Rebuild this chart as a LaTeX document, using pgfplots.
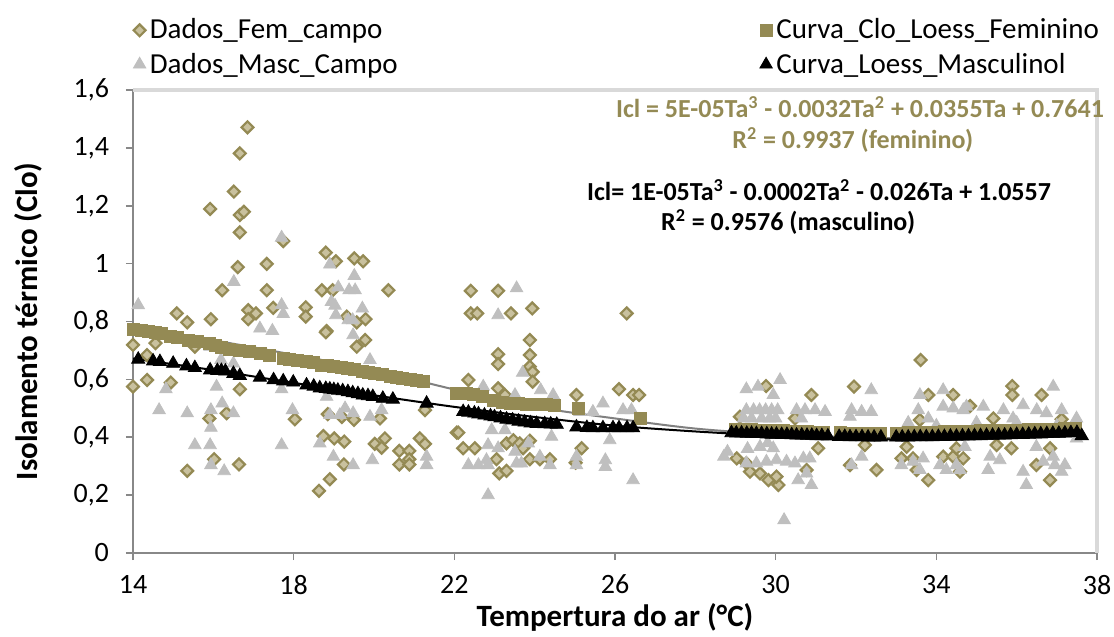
\documentclass[border=0pt]{standalone}
\usepackage{fontspec}
\setmainfont{Carlito}
\usepackage{pgfplots}
\pgfplotsset{compat=1.18}
\usetikzlibrary{calc}

\definecolor{olive}{HTML}{948A54}
\definecolor{tan}{HTML}{C9C19E}
\definecolor{ltgray}{HTML}{BFBFBF}
\definecolor{axgray}{HTML}{888888}
\definecolor{bordgray}{HTML}{D9D9D9}
\definecolor{fitgray}{HTML}{808080}

% campo - feminino
\pgfplotstableread{
x y
16.85 1.471
16.66 1.381
16.51 1.249
15.92 1.189
16.66 1.168
16.76 1.179
16.66 1.108
17.74 1.078
16.61 0.988
17.33 0.999
18.80 1.038
19.05 1.008
19.51 1.018
19.73 1.008
16.22 0.908
17.33 0.908
18.70 0.908
18.97 0.908
20.36 0.908
15.09 0.828
15.35 0.797
15.94 0.808
16.87 0.839
17.06 0.828
16.87 0.808
17.49 0.847
18.30 0.849
18.30 0.817
18.82 0.767
19.32 0.817
19.57 0.797
19.79 0.808
14.00 0.719
14.00 0.575
14.35 0.684
14.56 0.725
14.35 0.598
14.94 0.589
15.54 0.713
16.66 0.566
15.35 0.284
15.90 0.465
16.02 0.324
16.64 0.306
16.33 0.483
18.03 0.462
18.80 0.763
19.57 0.713
19.78 0.736
18.63 0.215
18.90 0.255
18.74 0.404
19.01 0.396
19.26 0.385
19.25 0.306
20.02 0.377
20.19 0.364
20.27 0.396
20.63 0.353
20.88 0.353
20.88 0.324
20.63 0.306
20.88 0.306
21.14 0.396
21.27 0.377
22.06 0.416
21.27 0.494
20.15 0.465
18.85 0.480
19.20 0.470
19.50 0.460
22.41 0.906
23.09 0.906
22.41 0.828
22.57 0.828
23.41 0.828
23.94 0.845
26.29 0.828
23.88 0.736
23.09 0.687
23.09 0.653
23.88 0.684
23.88 0.644
23.95 0.626
23.95 0.592
22.35 0.598
23.09 0.569
23.26 0.546
25.04 0.546
26.10 0.566
26.45 0.546
26.60 0.546
22.10 0.416
22.22 0.362
22.51 0.362
23.05 0.324
23.12 0.275
23.30 0.284
23.30 0.379
23.47 0.390
23.63 0.379
23.71 0.362
23.88 0.388
23.88 0.324
24.13 0.324
24.38 0.324
25.17 0.362
25.02 0.312
33.61 0.667
29.76 0.577
30.89 0.546
31.95 0.575
33.80 0.546
34.42 0.546
35.89 0.577
35.89 0.546
36.62 0.546
37.12 0.462
34.84 0.508
29.03 0.327
29.27 0.310
29.36 0.281
29.61 0.275
29.82 0.252
30.07 0.235
30.02 0.264
32.51 0.287
31.85 0.304
30.77 0.287
33.13 0.327
33.42 0.327
33.51 0.287
33.80 0.252
34.17 0.333
34.42 0.333
34.67 0.327
34.59 0.281
36.49 0.304
36.83 0.252
36.83 0.362
35.87 0.362
35.50 0.373
34.50 0.362
33.26 0.367
31.06 0.362
32.22 0.373
29.11 0.471
30.48 0.465
33.59 0.460
35.42 0.465
}\femdata

% campo - masculino
\pgfplotstableread{
x y
17.70 1.090
16.51 0.937
18.90 0.997
19.51 0.958
19.11 0.918
19.38 0.908
19.53 0.908
14.13 0.857
17.70 0.857
17.74 0.826
18.94 0.868
19.03 0.855
19.05 0.822
19.71 0.845
19.36 0.805
19.47 0.805
17.16 0.776
17.47 0.768
19.48 0.753
14.82 0.566
14.65 0.494
15.35 0.483
15.54 0.373
15.92 0.373
15.94 0.433
15.94 0.494
15.94 0.304
16.27 0.283
16.08 0.575
16.22 0.517
16.50 0.483
15.92 0.713
16.66 0.696
16.19 0.667
16.50 0.655
17.70 0.566
17.97 0.494
17.70 0.373
18.65 0.379
18.82 0.540
18.90 0.477
19.15 0.477
19.28 0.500
19.48 0.483
18.99 0.333
19.48 0.304
19.96 0.321
19.90 0.667
19.90 0.471
20.19 0.494
21.31 0.333
21.31 0.304
23.55 0.915
23.09 0.822
23.70 0.623
22.72 0.575
24.46 0.546
24.15 0.563
23.51 0.546
22.93 0.425
23.26 0.425
24.42 0.402
22.84 0.373
23.09 0.362
23.84 0.379
22.35 0.304
22.60 0.304
22.80 0.321
22.84 0.304
23.51 0.350
23.55 0.310
23.67 0.310
24.13 0.333
24.38 0.304
25.04 0.333
25.04 0.304
25.76 0.321
25.76 0.298
26.45 0.252
22.84 0.200
25.87 0.390
25.70 0.517
25.45 0.488
26.20 0.494
26.41 0.494
25.13 0.488
30.21 0.114
30.11 0.598
29.27 0.566
29.56 0.575
29.94 0.546
29.27 0.494
29.45 0.494
29.60 0.494
29.75 0.494
29.90 0.494
30.05 0.494
29.20 0.465
29.40 0.465
29.65 0.465
29.85 0.465
30.00 0.465
30.52 0.494
30.73 0.494
30.98 0.494
31.23 0.488
30.64 0.465
32.38 0.563
31.89 0.494
32.14 0.488
32.38 0.488
31.85 0.471
33.59 0.546
34.17 0.563
33.55 0.494
33.80 0.465
34.17 0.506
34.42 0.500
34.67 0.494
34.75 0.506
35.17 0.506
35.67 0.494
35.91 0.465
36.16 0.511
36.50 0.494
36.74 0.483
37.12 0.494
37.49 0.465
36.91 0.575
37.49 0.396
28.71 0.333
29.27 0.310
29.52 0.310
29.77 0.316
30.02 0.321
30.27 0.316
30.48 0.310
30.69 0.327
30.85 0.327
30.77 0.275
30.56 0.252
30.89 0.235
29.61 0.367
29.94 0.362
31.89 0.304
32.14 0.333
33.13 0.304
33.42 0.316
33.67 0.327
33.59 0.287
34.09 0.304
34.25 0.287
34.50 0.304
34.59 0.287
35.34 0.333
35.58 0.321
35.29 0.287
36.16 0.281
36.24 0.235
36.66 0.316
36.91 0.333
36.95 0.304
37.20 0.304
37.12 0.281
34.71 0.367
36.49 0.367
29.30 0.360
29.80 0.380
33.30 0.450
34.00 0.440
35.00 0.450
36.00 0.450
37.00 0.440
28.80 0.350
}\mascdata

% loess feminino
\pgfplotstableread{
x y
14.00 0.773
14.20 0.770
14.38 0.765
14.55 0.762
14.70 0.760
14.92 0.748
15.10 0.744
15.38 0.736
15.60 0.730
15.90 0.725
16.05 0.718
16.20 0.710
16.40 0.705
16.66 0.700
16.90 0.695
17.16 0.690
17.40 0.683
17.74 0.673
17.90 0.670
18.10 0.666
18.32 0.661
18.50 0.657
18.70 0.650
18.85 0.648
19.00 0.645
19.20 0.640
19.35 0.637
19.50 0.633
19.70 0.628
19.85 0.625
20.00 0.621
20.20 0.616
20.40 0.612
20.55 0.608
20.70 0.605
20.90 0.600
21.05 0.597
21.23 0.592
22.06 0.552
22.30 0.550
22.47 0.548
22.70 0.540
22.97 0.529
23.20 0.520
23.40 0.518
23.60 0.517
23.80 0.515
24.00 0.514
24.30 0.512
24.50 0.510
25.09 0.500
26.62 0.465
29.00 0.428
29.20 0.427
29.40 0.426
29.60 0.425
29.80 0.424
30.00 0.423
30.20 0.422
30.40 0.421
30.60 0.420
30.80 0.419
31.00 0.418
31.20 0.417
31.60 0.416
31.80 0.415
32.00 0.415
32.20 0.414
32.40 0.414
32.60 0.414
33.00 0.415
33.30 0.416
33.60 0.417
33.90 0.418
34.20 0.419
34.50 0.420
34.80 0.421
35.10 0.422
35.40 0.423
35.70 0.424
36.00 0.425
36.30 0.426
36.60 0.427
36.90 0.428
37.20 0.429
37.45 0.430
}\femloess

% loess masculino
\pgfplotstableread{
x y
14.13 0.669
14.50 0.663
14.67 0.661
15.00 0.655
15.33 0.646
15.54 0.640
15.92 0.632
16.10 0.630
16.20 0.630
16.30 0.628
16.50 0.620
16.66 0.613
17.16 0.607
17.50 0.598
17.74 0.594
17.99 0.590
18.32 0.580
18.50 0.576
18.65 0.570
18.80 0.568
18.90 0.566
19.00 0.564
19.10 0.562
19.22 0.560
19.35 0.557
19.47 0.553
19.60 0.550
19.72 0.545
19.85 0.543
19.97 0.540
20.22 0.534
20.47 0.531
21.31 0.517
22.22 0.488
22.35 0.486
22.50 0.483
22.60 0.480
22.75 0.476
22.90 0.473
23.00 0.470
23.15 0.466
23.30 0.462
23.45 0.459
23.60 0.455
23.75 0.452
23.90 0.449
24.05 0.447
24.25 0.446
24.40 0.445
24.55 0.444
25.04 0.435
25.30 0.433
25.45 0.432
25.70 0.432
25.95 0.432
26.10 0.432
26.30 0.432
26.45 0.432
28.90 0.415
29.02 0.414
29.15 0.414
29.28 0.413
29.40 0.413
29.52 0.412
29.65 0.412
29.78 0.411
29.90 0.410
30.02 0.410
30.15 0.409
30.28 0.409
30.40 0.408
30.52 0.407
30.65 0.407
30.78 0.406
30.90 0.406
31.02 0.405
31.15 0.405
31.30 0.404
31.58 0.402
31.72 0.402
31.85 0.401
32.00 0.401
32.15 0.401
32.30 0.400
32.45 0.400
32.62 0.400
33.00 0.400
33.15 0.400
33.30 0.400
33.45 0.401
33.60 0.401
33.75 0.401
33.90 0.401
34.05 0.402
34.20 0.402
34.35 0.403
34.50 0.403
34.65 0.404
34.80 0.404
34.95 0.405
35.10 0.405
35.25 0.406
35.40 0.406
35.55 0.407
35.70 0.407
35.85 0.408
36.00 0.409
36.15 0.409
36.30 0.410
36.45 0.411
36.60 0.411
36.75 0.412
36.90 0.413
37.05 0.413
37.20 0.414
37.35 0.415
37.50 0.416
37.62 0.405
}\mascloess

\begin{document}
\begin{tikzpicture}
\begin{axis}[
    scale only axis,
    width=482pt, height=231.5pt,
    xmin=14, xmax=38, ymin=0, ymax=1.6,
    xtick={14,18,...,38},
    ytick={0,0.2,...,1.6},
    axis lines=left,
    axis line style={-, draw=axgray, line width=1.4pt},
    tick align=outside,
    major tick length=3.5pt,
    tick style={draw=axgray, line width=0.8pt},
    /pgf/number format/.cd, use comma, fixed, assume math mode=true,
    /pgfplots/.cd,
    ticklabel style={font=\fontsize{14}{16}\selectfont},
    xticklabel style={yshift=-4pt},
    yticklabel style={xshift=-5pt},
    xlabel={\textbf{Tempertura do ar (°C)}},
    ylabel={\textbf{Isolamento térmico (Clo)}},
    label style={font=\fontsize{15.5}{17}\selectfont},
    xlabel style={yshift=2.5pt},
    ylabel style={yshift=9pt},
    clip=false,
    legend columns=2,
    legend style={at={(axis description cs:0,1.172)}, anchor=north west,
        draw=none, fill=none, font=\fontsize{14.5}{16}\selectfont,
        row sep=1.5pt, inner xsep=0pt,
        /tikz/every even column/.style={column sep=0pt}},
    legend cell align=left,
]
% borda superior e direita
\draw[bordgray, line width=2pt] (rel axis cs:0,1) -- (rel axis cs:1,1) -- (rel axis cs:1,0);
\coordinate (bl) at (rel axis cs:0,0);
\coordinate (tr) at (rel axis cs:1,1);

\addplot[only marks, mark=square*, mark size=2.1pt,
    mark options={rotate=45, fill=tan, draw=olive, line width=1.1pt}, forget plot]
    table {\femdata};
\addplot[only marks, mark=triangle*, mark size=3.6pt,
    mark options={fill=ltgray, draw=ltgray}, forget plot]
    table {\mascdata};
\addplot[only marks, mark=square*, mark size=3pt,
    mark options={fill=olive, draw=olive}, forget plot]
    table {\femloess};
\addplot[only marks, mark=triangle*, mark size=3.8pt,
    mark options={fill=black, draw=black}, forget plot]
    table {\mascloess};

% linhas de tendencia (polinomial)
\addplot[fitgray, line width=1pt, smooth, forget plot] coordinates {
    (14,0.777) (16,0.735) (18,0.685) (20,0.632) (22,0.565) (24,0.505)
    (26,0.465) (28,0.430) (30,0.410) (32,0.400) (33,0.397) (34,0.400)
    (35,0.410) (36,0.420) (37.2,0.438)};
\addplot[black, line width=1pt, smooth, forget plot] coordinates {
    (14,0.672) (16,0.632) (18,0.588) (20,0.545) (22,0.505) (24,0.470)
    (26,0.440) (28,0.420) (30,0.405) (32,0.395) (33,0.393) (34,0.395)
    (35,0.398) (36,0.400) (37.6,0.405)};

\addlegendimage{only marks, mark=square*, mark size=2.1pt,
    mark options={rotate=45, fill=tan, draw=olive, line width=1.1pt}}
\addlegendentry{\makebox[303pt][l]{Dados\_Fem\_campo}}
\addlegendimage{only marks, mark=square*, mark size=3pt,
    mark options={fill=olive, draw=olive}}
\addlegendentry{Curva\_Clo\_Loess\_Feminino}
\addlegendimage{only marks, mark=triangle*, mark size=3.6pt,
    mark options={fill=ltgray, draw=ltgray}}
\addlegendentry{\makebox[303pt][l]{Dados\_Masc\_Campo}}
\addlegendimage{only marks, mark=triangle*, mark size=3.6pt,
    mark options={fill=black, draw=black}}
\addlegendentry{Curva\_Loess\_Masculinol}

\node[olive, font=\bfseries\fontsize{13}{15}\selectfont] at (axis cs:32.1,1.541)
    {Icl = 5E-05Ta\textsuperscript{3} - 0.0032Ta\textsuperscript{2} + 0.0355Ta + 0.7641};
\node[olive, font=\bfseries\fontsize{13}{15}\selectfont] at (axis cs:31.92,1.427)
    {R\textsuperscript{2} = 0.9937 (feminino)};
\node[black, font=\bfseries\fontsize{13}{15}\selectfont] at (axis cs:31.08,1.254)
    {Icl= 1E-05Ta\textsuperscript{3} - 0.0002Ta\textsuperscript{2} - 0.026Ta + 1.0557};
\node[black, font=\bfseries\fontsize{13}{15}\selectfont] at (axis cs:30.31,1.144)
    {R\textsuperscript{2} = 0.9576 (masculino)};
\end{axis}
\pgfresetboundingbox
\path[use as bounding box] ($(bl)+(-66.5pt,-42pt)$) rectangle ($(tr)+(8.5pt,45pt)$);
\end{tikzpicture}
\end{document}
